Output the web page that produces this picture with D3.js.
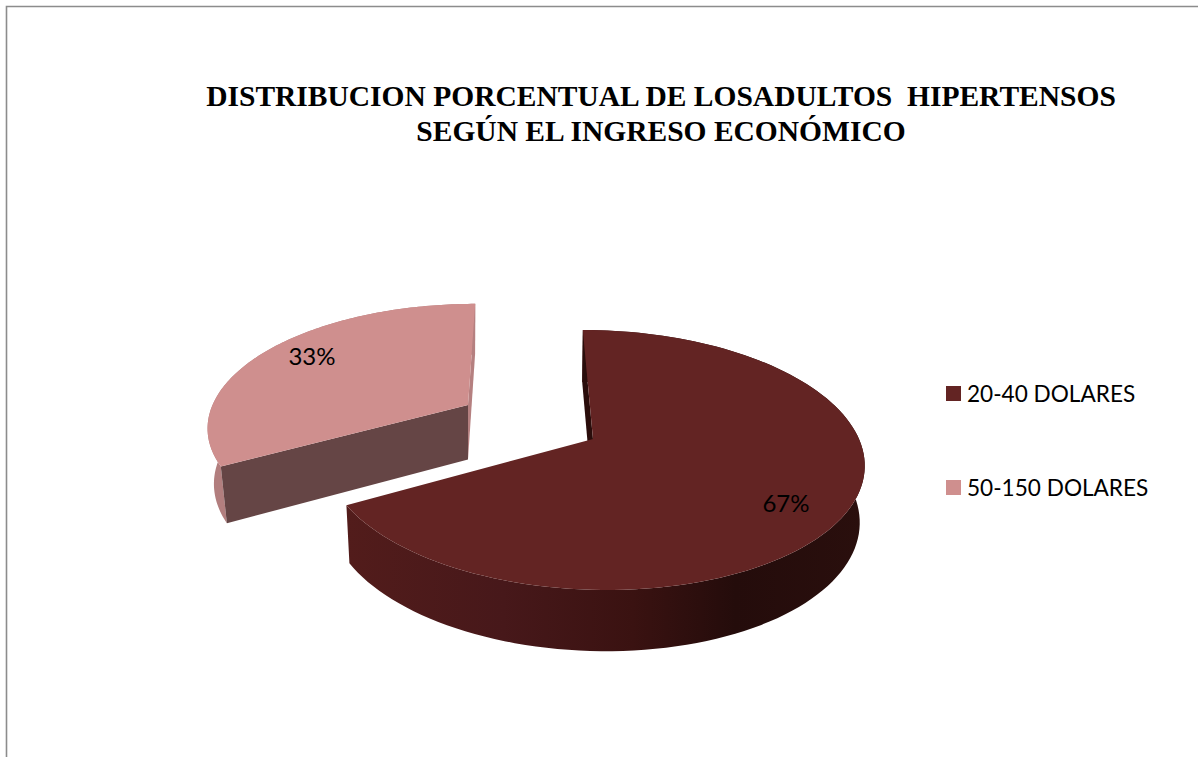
<!DOCTYPE html>
<html><head><meta charset="utf-8">
<script src="https://cdn.jsdelivr.net/npm/d3@7"></script>
<style>html,body{margin:0;padding:0;background:#fff}svg{display:block}
text{white-space:pre}</style></head>
<body><svg id="c" width="1198" height="757"></svg>
<script>
const categories = ["20-40 DOLARES", "50-150 DOLARES"];
const values = [67, 33];
const titleLines = ["DISTRIBUCION PORCENTUAL DE LOSADULTOS  HIPERTENSOS", "SEGÚN EL INGRESO ECONÓMICO"];
const topColors = ["#632423", "#cf8f8e"];

const svg = d3.select("#c");
svg.append("path").attr("d","M1198 6.5H6.5V757").attr("fill","none").attr("stroke","#8c8c8c").attr("stroke-width",1.6);

const title = svg.append("text").attr("text-anchor","middle")
  .attr("font-family","'Liberation Serif',serif").attr("font-weight","bold").attr("font-size",29.5).attr("fill","#000");
titleLines.forEach((t,i)=>title.append("tspan").attr("x",661).attr("y",106+i*35).text(t));

// perspective projection of each slice's disc
const k = 0.1615, vanishX = 520;
const geom = [
  {ax:593, ay:439, rx:266, r:126.6, labelX:786, labelY:504, depthVX:541, depthT:0.0155},
  {ax:468, ay:405, rx:255.5, r:117.5, labelX:312, labelY:357, depthVX:468, depthT:0.0244}
];
function project(g, a, rad){
  const X = Math.sin(a)*rad, Y = Math.cos(a)*rad, w = 1 + k*Y, c = k*(vanishX-g.ax);
  return [g.ax + (g.rx*X + c*Y)/w, g.ay - g.r*Y/w];
}
const line = d3.line();
const arcPts = (g,a0,a1) => d3.range(0,121).map(i=>project(g, a0+(a1-a0)*i/120, 1));

const pie = d3.pie().sort(null).value(d=>d)(values);

const defs = svg.append("defs");
const grad = defs.append("linearGradient").attr("id","wall").attr("gradientUnits","userSpaceOnUse")
  .attr("x1",348).attr("x2",865).attr("y1",0).attr("y2",0);
[[0,"#521c1b"],[0.3,"#47181a"],[0.55,"#3a1211"],[0.75,"#240c0b"],[1,"#2a0f0d"]]
  .forEach(s=>grad.append("stop").attr("offset",s[0]).attr("stop-color",s[1]));

function slice(i, wallFill, startFace, endFace){
  const g = geom[i], d = pie[i];
  const down = p => [p[0] + (g.depthVX-p[0])*g.depthT, p[1] + 40 + 0.036*p[1]];
  const top = arcPts(g,d.startAngle,d.endAngle);
  const apex = [g.ax,g.ay];
  // outer wall
  svg.append("path").attr("d", line(top.concat(top.slice().reverse().map(down)))+"Z").attr("fill",wallFill);
  // cut faces that can be seen from the viewer's side
  const face = (p,fill)=>svg.append("path").attr("d",line([p,apex,down(apex),down(p)])+"Z").attr("fill",fill);
  if(endFace) face(top[top.length-1],endFace);
  if(startFace) face(top[0],startFace);
  // top face
  svg.append("path").attr("d",line([apex].concat(top))+"Z").attr("fill",topColors[i]);
  svg.append("text").attr("x",g.labelX).attr("y",g.labelY).attr("dy","0.35em").attr("text-anchor","middle")
    .attr("font-family","Lato,sans-serif").attr("font-size",24).attr("fill","#000").text(d.value+"%");
}
slice(0,"url(#wall)","#2a0d0b",null);
slice(1,"#b27e7e","#654545","#b58080");

const legY = [394, 488];
categories.forEach((c,i)=>{
  svg.append("rect").attr("x",946).attr("y",393.5+i*94-7.5).attr("width",15).attr("height",15).attr("fill",topColors[i]);
  svg.append("text").attr("x",967).attr("y",legY[i]).attr("dy","0.35em")
    .attr("font-family","Lato,sans-serif").attr("font-size",22.6).attr("fill","#000").text(c);
});
</script></body></html>
